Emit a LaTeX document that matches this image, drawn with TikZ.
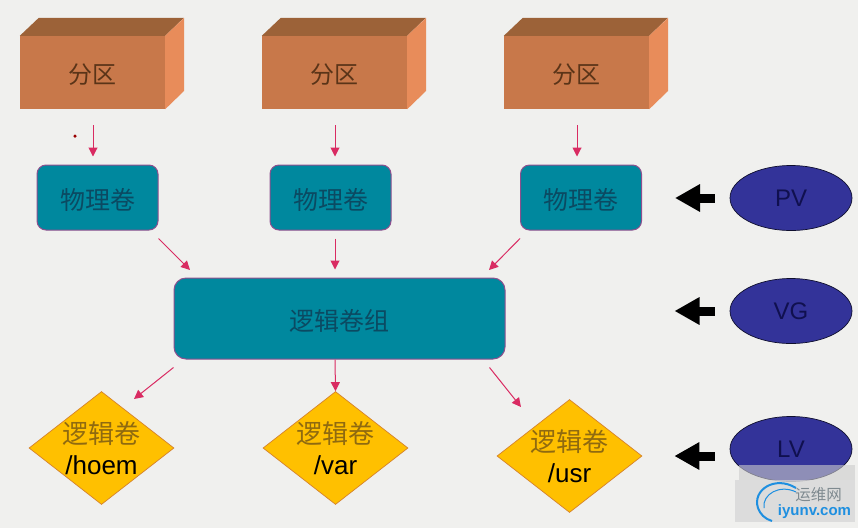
\documentclass[tikz,border=0pt]{standalone}
\usepackage{fontspec}
\setmainfont{Liberation Sans}
\newfontfamily\cjk{Noto Sans CJK SC}
\usepackage{xcolor}
\usetikzlibrary{positioning,calc,shapes.geometric,arrows.meta}

\definecolor{pagebg}{HTML}{F0F0EE}
\definecolor{brickfront}{HTML}{C8784A}
\definecolor{bricktop}{HTML}{9C6238}
\definecolor{brickside}{HTML}{E88C5A}
\definecolor{bricktext}{HTML}{5A3418}
\definecolor{tealbox}{HTML}{00889E}
\definecolor{tealtext}{HTML}{0B4A62}
\definecolor{tealedge}{HTML}{8E4F8E}
\definecolor{linkred}{HTML}{D92B62}
\definecolor{lvyellow}{HTML}{FFC000}
\definecolor{lvedge}{HTML}{D5822C}
\definecolor{lvcjk}{HTML}{8F6A10}
\definecolor{navy}{HTML}{333399}
\definecolor{navytext}{HTML}{10104F}
\definecolor{marktext}{HTML}{7F8A90}
\definecolor{markblue}{HTML}{1E8FE0}

\tikzset{
	partbox/.style={fill=brickfront, minimum width=145, minimum height=73, inner sep=0, text=bricktext, font=\cjk\fontsize{24}{28}\selectfont},
	pvbox/.style={draw=tealedge, line width=1pt, fill=tealbox, rounded corners=9, minimum width=121, minimum height=65, inner sep=0, text=tealtext, font=\cjk\fontsize{25}{29}\selectfont},
	lvbox/.style={shape=diamond, draw=lvedge, line width=0.7pt, fill=lvyellow, minimum width=145, minimum height=113, inner sep=0},
	lvtext/.style={align=center, inner sep=0, font=\fontsize{26}{31}\selectfont},
	tagnode/.style={shape=ellipse, draw=black!70!navy, line width=0.7pt, fill=navy, minimum width=122, minimum height=65, inner sep=0, text=navytext, font=\fontsize{24}{28}\selectfont},
	link/.style={draw=linkred, line width=1pt, -{Triangle[length=9,width=9]}},
	fatarrow/.style={draw=black, line width=9, -{Triangle[length=25,width=26]}},
}

\newcommand{\brickfaces}[1]{
	\fill[bricktop] (#1.north west) -- ++(19,-18) -- ++(145,0) -- (#1.north east) -- cycle;
	\fill[brickside] (#1.north east) -- ++(19,-18) -- ++(0,73) -- (#1.south east) -- cycle;
}
\newcommand{\lowered}[1]{\raisebox{-2.5pt}[\height][\depth]{#1}}

\begin{document}
\begin{tikzpicture}[x=1pt,y=-1pt]
	\useasboundingbox (0,0) rectangle (858,528);
	\fill[pagebg] (0,0) rectangle (858,528);

	% top row
	\node[partbox] (part1) at (92.5,72.5) {\lowered{分区}};
	\node[partbox] (part2) at (334.5,72.5) {\lowered{分区}};
	\node[partbox] (part3) at (576.5,72.5) {\lowered{分区}};
	\foreach \n in {part1,part2,part3} {\brickfaces{\n}}
	\node[circle, fill=red!60!black, minimum size=3.5, inner sep=0] (dot) at (75,136) {};

	\node[pvbox] (pv1) at (97.5,197.5) {\lowered{物理卷}};
	\node[pvbox] (pv2) at (330.5,197.5) {\lowered{物理卷}};
	\node[pvbox] (pv3) at (581,197.5) {\lowered{物理卷}};

	\node[pvbox, minimum width=331, minimum height=81, rounded corners=12] (vg) at (339.5,318.5) {\lowered{逻辑卷组}};

	\node[lvbox] (lv1) at (101.5,448) {};
	\node[lvbox] (lv2) at (335.5,448) {};
	\node[lvbox] (lv3) at (569.5,456) {};
	\node[lvtext] (lv1txt) at (lv1) {{\cjk\color{lvcjk}逻辑卷}\\/hoem};
	\node[lvtext] (lv2txt) at (lv2) {{\cjk\color{lvcjk}逻辑卷}\\/var};
	\node[lvtext] (lv3txt) at (lv3) {{\cjk\color{lvcjk}逻辑卷}\\/usr};

	\node[tagnode] (tagpv) at (791,198) {PV};
	\node[tagnode] (tagvg) at (791,311) {VG};
	\node[tagnode] (taglv) at (791,449) {LV};

	% free ends of the slanted links
	\coordinate (in1) at (190,270);
	\coordinate (in3) at (489,270);
	\coordinate (out1) at (134,399);
	\coordinate (out3) at (521,407);

	\draw[link, shorten <=16, shorten >=8] (part1.south -| 93,0) -- (pv1.north -| 93,0);
	\draw[link, shorten <=16, shorten >=8] (part2.south -| 335,0) -- (pv2.north -| 335,0);
	\draw[link, shorten <=16, shorten >=8] (part3.south -| 577,0) -- (pv3.north -| 577,0);

	\draw[link] (pv1.south east) ++(0,8) -- (in1);
	\draw[link, shorten <=8, shorten >=8] (pv2.south -| 335,0) -- (vg.north -| 335,0);
	\draw[link] (pv3.south west) ++(0,8) -- (in3);

	\draw[link] (vg.south west) ++(0,8) -- (out1);
	\draw[link] (vg.south -| 335,0) -- (lv2.north);
	\draw[link] (vg.south east) ++(-16,8) -- (out3);

	% fat arrows from the tags
	\draw[fatarrow, shorten <=15, shorten >=33] (tagpv.west) -- (pv3.east |- tagpv.west);
	\draw[fatarrow, shorten <=15, shorten >=169] (tagvg.west) -- (vg.east |- tagvg.west);
	\draw[fatarrow, shorten <=15, shorten >=32] (taglv.west |- lv3) -- (lv3.east);

	% site mark over the corner
	\fill[black!20, opacity=0.6] (739,465) rectangle (855,480);
	\fill[black!15, opacity=0.85] (735,480) rectangle (855,522);
	\draw[markblue, line width=2] (796,488) .. controls (775,475) and (752,490) .. (758,508) .. controls (760,514) and (765,519) .. (772,521);
	\draw[markblue, line width=1] (796,492) .. controls (780,484) and (762,494) .. (764,508);
	\node[inner sep=0, text=marktext, font=\cjk\fontsize{15.5}{18}\selectfont] (marktop) at (818.5,495) {运维网};
	\node[inner sep=0, text=markblue, font=\bfseries\fontsize{15}{18}\selectfont] (markbot) at (814.5,512) {iyunv.com};
\end{tikzpicture}
\end{document}
